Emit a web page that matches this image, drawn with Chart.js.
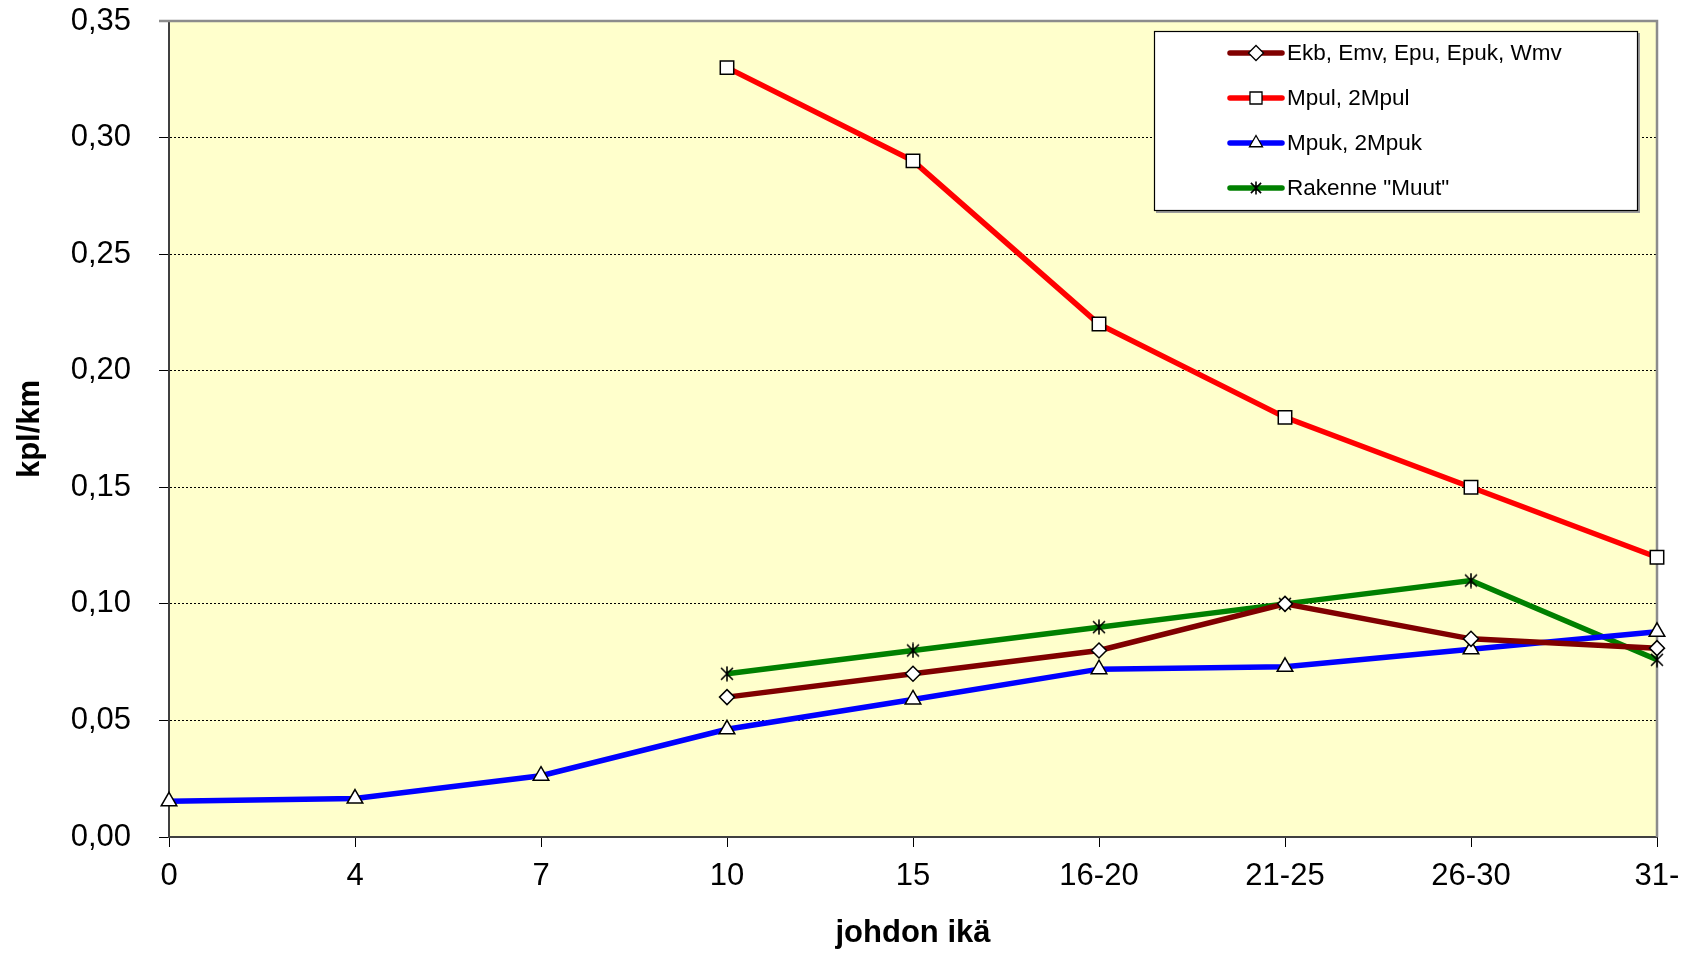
<!DOCTYPE html>
<html>
<head>
<meta charset="utf-8">
<script src="https://cdn.jsdelivr.net/npm/chart.js@4.4.0/dist/chart.umd.min.js"></script>
<style>
  html, body { margin: 0; padding: 0; background: #ffffff; }
  canvas { display: block; }
</style>
</head>
<body>
<canvas id="chart" width="1685" height="953"></canvas>
<script>
// Pipe age groups (x axis)
const ageGroups = ['0', '4', '7', '10', '15', '16-20', '21-25', '26-30', '31-'];

// Failures per km by pipe type
const ekbSeries  = [null, null, null, 0.060, 0.070, 0.080, 0.100, 0.085, 0.081];
const mpulSeries = [null, null, null, 0.330, 0.290, 0.220, 0.180, 0.150, 0.120];
const mpukSeries = [0.0153, 0.0165, 0.0263, 0.0462, 0.0590, 0.0720, 0.0730, 0.0805, 0.0880];
const muutSeries = [null, null, null, 0.070, 0.080, 0.090, 0.100, 0.110, 0.076];

const seriesNames = ['Ekb, Emv, Epu, Epuk, Wmv', 'Mpul, 2Mpul', 'Mpuk, 2Mpuk', 'Rakenne "Muut"'];

// Value axis ticks
const yTicks = [0, 0.05, 0.10, 0.15, 0.20, 0.25, 0.30, 0.35];

const FONT = '"Liberation Sans", Arial, sans-serif';
Chart.defaults.font.family = FONT;
Chart.defaults.color = '#000000';

// Asterisk marker: an X crossed by a vertical stroke
function asteriskMarker(size) {
  const c = document.createElement('canvas');
  c.width = size; c.height = size;
  const g = c.getContext('2d');
  g.strokeStyle = '#000000';
  g.lineWidth = 1.6;
  const m = size / 2, r = size / 2 - 1;
  g.beginPath();
  g.moveTo(m - r * 0.85, m - r * 0.85); g.lineTo(m + r * 0.85, m + r * 0.85);
  g.moveTo(m + r * 0.85, m - r * 0.85); g.lineTo(m - r * 0.85, m + r * 0.85);
  g.moveTo(m, 0.5); g.lineTo(m, size - 0.5);
  g.stroke();
  return c;
}
const starMarker = asteriskMarker(16);
const legendStar = asteriskMarker(14);

function lineSet(label, data, color, style, radius, width) {
  return {
    label, data,
    borderColor: color,
    backgroundColor: color,
    borderWidth: width,
    pointStyle: style,
    pointRadius: radius,
    pointHoverRadius: radius,
    pointBackgroundColor: '#ffffff',
    pointBorderColor: '#000000',
    pointBorderWidth: 1.5,
    tension: 0,
    spanGaps: false,
    clip: false
  };
}

const datasets = [
  lineSet(seriesNames[0], ekbSeries,  '#800000', 'rectRot', 7.5, 5.5),
  lineSet(seriesNames[1], mpulSeries, '#ff0000', 'rect', 9.5, 5.5),
  lineSet(seriesNames[2], mpukSeries, '#0000ff', 'triangle', 9, 5.5),
  lineSet(seriesNames[3], muutSeries, '#008000', starMarker, 8, 5.5)
];

// Pale plot background and grey top/right frame
const plotFrame = {
  id: 'plotFrame',
  beforeDraw(chart) {
    const { ctx, chartArea: a } = chart;
    ctx.save();
    ctx.fillStyle = '#ffffcc';
    ctx.fillRect(a.left, a.top, a.right - a.left, a.bottom - a.top);
    ctx.restore();
  },
  beforeDatasetsDraw(chart) {
    const { ctx, chartArea: a } = chart;
    ctx.save();
    ctx.strokeStyle = '#8c8c8c';
    ctx.lineWidth = 2.5;
    ctx.beginPath();
    ctx.moveTo(a.left - 10, a.top);
    ctx.lineTo(a.right, a.top);
    ctx.lineTo(a.right, a.bottom);
    ctx.stroke();
    ctx.restore();
  }
};

// Boxed legend in the upper right of the plot
const boxLegend = {
  id: 'boxLegend',
  afterDraw(chart) {
    const { ctx } = chart;
    const box = { x: 1154, y: 31, w: 484, h: 180 };
    ctx.save();
    ctx.fillStyle = '#9a9a9a';
    ctx.fillRect(box.x + 2, box.y + 2, box.w, box.h);
    ctx.fillStyle = '#ffffff';
    ctx.fillRect(box.x, box.y, box.w, box.h);
    ctx.strokeStyle = '#000000';
    ctx.lineWidth = 1.2;
    ctx.strokeRect(box.x + 0.5, box.y + 0.5, box.w - 1, box.h - 1);

    const rowY = [53, 98, 143, 188];
    chart.data.datasets.forEach((ds, i) => {
      const y = rowY[i];
      ctx.strokeStyle = ds.borderColor;
      ctx.lineWidth = 5.5;
      ctx.lineCap = 'round';
      ctx.beginPath();
      ctx.moveTo(1230, y);
      ctx.lineTo(1282, y);
      ctx.stroke();
      ctx.fillStyle = '#ffffff';
      ctx.strokeStyle = '#000000';
      ctx.lineWidth = 1.3;
      const isImg = typeof ds.pointStyle !== 'string';
      const r = isImg ? 0 : (ds.pointStyle === 'rect' ? 8.5 : 7.5);
      Chart.helpers.drawPoint(ctx, { pointStyle: isImg ? legendStar : ds.pointStyle, radius: r, rotation: 0, borderWidth: 1.3 }, 1256, y);
      ctx.fillStyle = '#000000';
      ctx.font = '22.5px ' + FONT;
      ctx.textAlign = 'left';
      ctx.textBaseline = 'middle';
      ctx.fillText(ds.label, 1287, y + 1);
    });
    ctx.restore();
  }
};

new Chart(document.getElementById('chart'), {
  type: 'line',
  data: { labels: ageGroups, datasets },
  plugins: [plotFrame, boxLegend],
  options: {
    responsive: false,
    animation: false,
    devicePixelRatio: 1,
    layout: { padding: { top: 21, right: 28, left: 0, bottom: 0 } },
    plugins: { legend: { display: false }, tooltip: { enabled: false } },
    scales: {
      x: {
        type: 'category',
        offset: false,
        afterFit(s) { s.height = 116; s.paddingLeft = 0; s.paddingRight = 0; },
        grid: { drawOnChartArea: false, drawTicks: true, tickLength: 10, tickColor: '#000000', tickWidth: 1 },
        border: { display: true, color: '#404040', width: 2 },
        ticks: { autoSkip: false, maxRotation: 0, padding: 11, font: { size: 31 }, color: '#000000' },
        title: { display: true, text: 'johdon ikä', font: { size: 31, weight: 'bold' }, color: '#000000', padding: { top: 0, bottom: 1 } }
      },
      y: {
        min: 0,
        max: 0.35,
        afterFit(s) { s.width = 169; s.paddingTop = 0; s.paddingBottom = 0; },
        afterBuildTicks(s) { s.ticks = yTicks.map(v => ({ value: v })); },
        grid: {
          color: c => (c.tick && c.tick.value > 0 && c.tick.value < 0.34) ? '#000000' : 'rgba(0,0,0,0)',
          lineWidth: 1,
          tickColor: '#000000',
          tickLength: 10,
          tickWidth: 1
        },
        border: { display: true, color: '#404040', width: 2, dash: [2, 2] },
        ticks: {
          padding: 28,
          font: { size: 31 },
          color: '#000000',
          callback: v => Number(v).toFixed(2).replace('.', ',')
        },
        title: { display: true, text: 'kpl/km', font: { size: 31, weight: 'bold' }, color: '#000000', padding: { top: 12, bottom: 0 } }
      }
    }
  }
});
</script>
</body>
</html>
